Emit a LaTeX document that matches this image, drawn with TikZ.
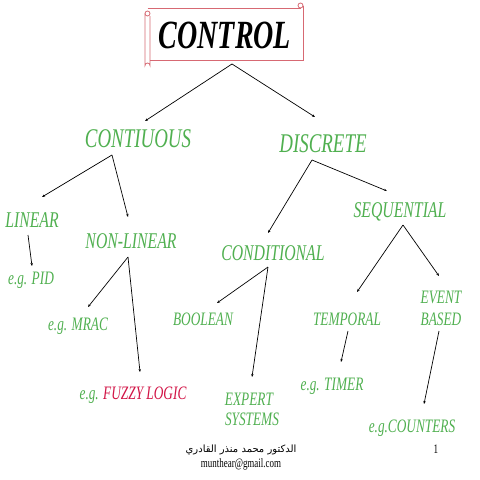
\documentclass[tikz,border=0pt]{standalone}
\usepackage{fontspec}
\usepackage{graphicx}
\setmainfont{Liberation Serif}[ItalicFont={Liberation Serif Italic},BoldFont={Liberation Serif Bold},BoldItalicFont={Liberation Serif Bold Italic}]
\newfontfamily\arabicfont[Script=Arabic]{DejaVu Sans}
\TeXXeTstate=1
\usetikzlibrary{arrows.meta,calc}
\newcommand{\sq}[1]{\scalebox{0.7}[1]{#1}}
\definecolor{lg}{RGB}{80,176,80}
\definecolor{crim}{RGB}{210,20,70}
\definecolor{scr}{RGB}{215,105,115}
\tikzset{
 lbl/.style={anchor=base,inner sep=0pt,text=lg},
 big/.style={lbl,font=\fontsize{27}{30}\selectfont\itshape},
 mid/.style={lbl,font=\fontsize{22.5}{26}\selectfont\itshape},
 sml/.style={lbl,font=\fontsize{19}{22}\selectfont\itshape},
 foot/.style={anchor=base,inner sep=0pt,text=black},
 arr/.style={-{Stealth[length=3pt,width=2.4pt]},line width=0.7pt,black},
 scroll/.style={draw=scr,line width=0.8pt}
}
\begin{document}
\begin{tikzpicture}[x=1pt,y=-1pt]
\fill[white] (0,0) rectangle (480,480);
\useasboundingbox (0,0) rectangle (480,480);
% scroll banner
\draw[scroll] (147.5,8) -- (300.5,8);
\draw[scroll] (303,5.5) -- (303,60) -- (150,60);
\draw[scroll] (300.5,5.5) circle (2.5);
\draw[scroll] (145,13.5) -- (145,65.5) arc[start angle=180,end angle=360,radius=2.5] -- (150,16);
\draw[scroll] (147.5,13.5) circle (2.5);
\node[anchor=base,inner sep=0pt,font=\fontsize{40}{44}\selectfont\bfseries\itshape] (control) at (225,48) {\sq{CONTROL}};
% labels
\node[big] (contiuous) at (138,147) {\sq{CONTIUOUS}};
\node[big] (discrete) at (323,152) {\sq{DISCRETE}};
\node[mid] (linear) at (32,227) {\sq{LINEAR}};
\node[mid] (nonlinear) at (131,248) {\sq{NON-LINEAR}};
\node[mid] (conditional) at (273,260) {\sq{CONDITIONAL}};
\node[mid] (sequential) at (400,217) {\sq{SEQUENTIAL}};
\node[sml] (pid) at (31,284) {\sq{e.g. PID}};
\node[sml] (mrac) at (78,330) {\sq{e.g. MRAC}};
\node[sml] (fuzzy) at (133,399) {\sq{e.g. \textcolor{crim}{FUZZY LOGIC}}};
\node[sml] (boolean) at (203,325) {\sq{BOOLEAN}};
\node[sml] (expert) at (249,405) {\sq{EXPERT}};
\node[sml] (systems) at (252,425) {\sq{SYSTEMS}};
\node[sml] (temporal) at (347,325) {\sq{TEMPORAL}};
\node[sml] (event) at (441,303) {\sq{EVENT}};
\node[sml] (based) at (441,325) {\sq{BASED}};
\node[sml] (timer) at (332,390) {\sq{e.g. TIMER}};
\node[sml] (counters) at (412,432) {\sq{e.g.COUNTERS}};
% footer
\node[foot,font=\fontsize{10}{12}\selectfont] (author) at (241,452) {\arabicfont\beginR الدكتور محمد منذر القادري\endR};
\node[foot,font=\fontsize{12.8}{14}\selectfont] (email) at (241,467) {\sq{munthear@gmail.com}};
\node[foot,font=\fontsize{13}{14}\selectfont] (page) at (436,453) {\sq{1}};
% connectors
\draw[arr] ($(control.base)+(7,16)$) -- ($(contiuous.base)+(7,-26)$);
\draw[arr] ($(control.base)+(7,16)$) -- ($(discrete.base)+(-8,-35)$);
\draw[arr] ($(contiuous.base)+(-26,8)$) -- ($(linear.base)+(10,-30)$);
\draw[arr] ($(contiuous.base)+(-26,8)$) -- ($(nonlinear.base)+(-3,-31)$);
\draw[arr] ($(linear.base)+(-4,8)$) -- ($(pid.base)+(1,-18)$);
\draw[arr] ($(nonlinear.base)+(-3,9)$) -- ($(mrac.base)+(10,-23)$);
\draw[arr] ($(nonlinear.base)+(-3,9)$) -- ($(fuzzy.base)+(7,-27)$);
\draw[arr] ($(discrete.base)+(-11,8)$) -- ($(conditional.base)+(-5,-27)$);
\draw[arr] ($(discrete.base)+(-11,8)$) -- ($(sequential.base)+(-13,-26)$);
\draw[arr] ($(conditional.base)+(-5,7)$) -- ($(boolean.base)+(14,-22)$);
\draw[arr] ($(conditional.base)+(-5,7)$) -- ($(expert.base)+(3,-28)$);
\draw[arr] ($(sequential.base)+(3,8)$) -- ($(temporal.base)+(10,-33)$);
\draw[arr] ($(sequential.base)+(3,8)$) -- ($(event.base)+(-2,-27)$);
\draw[arr] ($(temporal.base)+(1,6)$) -- ($(timer.base)+(9,-28)$);
\draw[arr] ($(based.base)+(-2,6)$) -- ($(counters.base)+(12,-28)$);
\end{tikzpicture}
\end{document}
